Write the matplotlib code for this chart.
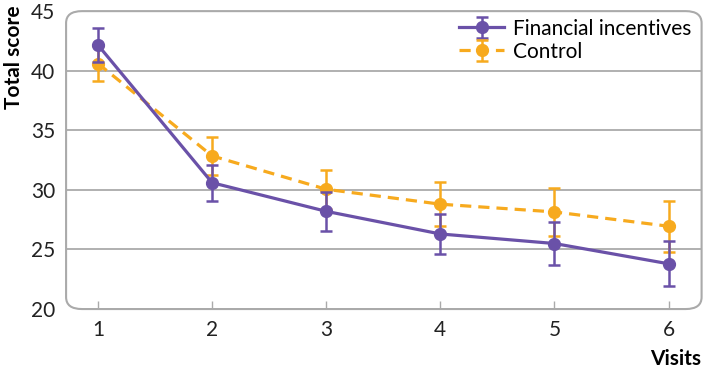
import matplotlib.pyplot as plt
from matplotlib.patches import FancyBboxPatch

plt.rcParams['font.family'] = ['Lato', 'DejaVu Sans']

visits = [1, 2, 3, 4, 5, 6]
fin_mean = [42.15, 30.6, 28.2, 26.3, 25.5, 23.8]
fin_err = [1.45, 1.5, 1.65, 1.65, 1.8, 1.9]
ctl_mean = [40.6, 32.85, 30.05, 28.8, 28.15, 26.95]
ctl_err = [1.45, 1.6, 1.65, 1.85, 2.0, 2.15]
yticks = [20, 25, 30, 35, 40, 45]

purple = '#6a51a8'
orange = '#f7aa1e'
grey = '#aaaaaa'

fig = plt.figure(figsize=(7.03, 3.71), dpi=100)
ax = fig.add_axes([0.094, 0.167, 0.904, 0.803])
ax.set_xlim(0.72, 6.29)
ax.set_ylim(20, 45)

for y in yticks[1:-1]:
    ax.axhline(y, color=grey, lw=1.3, zorder=1)

frame = FancyBboxPatch((0, 0), 1, 1, boxstyle='round,pad=0,rounding_size=0.025',
                       transform=ax.transAxes, fill=False, ec=grey, lw=1.5,
                       clip_on=False, zorder=1, mutation_aspect=1.6)
ax.add_patch(frame)
for s in ax.spines.values():
    s.set_visible(False)

h2 = ax.errorbar(visits, ctl_mean, yerr=ctl_err, color=orange, ls=(0, (3.5, 2.2)), lw=2.3,
                 marker='o', ms=8.5, capsize=4, elinewidth=1.8, capthick=1.8,
                 zorder=3, label='Control')
h1 = ax.errorbar(visits, fin_mean, yerr=fin_err, color=purple, lw=2.3,
                 marker='o', ms=8.5, capsize=4, elinewidth=1.8, capthick=1.8,
                 zorder=4, label='Financial incentives')

ax.set_yticks(yticks)
ax.set_xticks(visits)
ax.tick_params(axis='y', length=0, labelsize=15, pad=8, colors='#222222')
ax.tick_params(axis='x', direction='in', length=6, width=1, color=grey,
               labelsize=15, pad=8, labelcolor='#222222')

fig.text(0.02, 0.846, 'Total score', rotation=90, ha='center', va='center',
         fontsize=15, fontweight='bold')
fig.text(0.998, 0.005, 'Visits', ha='right', va='bottom', fontsize=15, fontweight='bold')

ax.legend([h1, h2], ['Financial incentives', 'Control'], loc='upper right',
          frameon=False, fontsize=15, handlelength=2.2, handletextpad=0.4,
          labelspacing=0.15, borderaxespad=0.1, bbox_to_anchor=(1.0, 1.01))

fig.savefig('out.png', dpi=100)
